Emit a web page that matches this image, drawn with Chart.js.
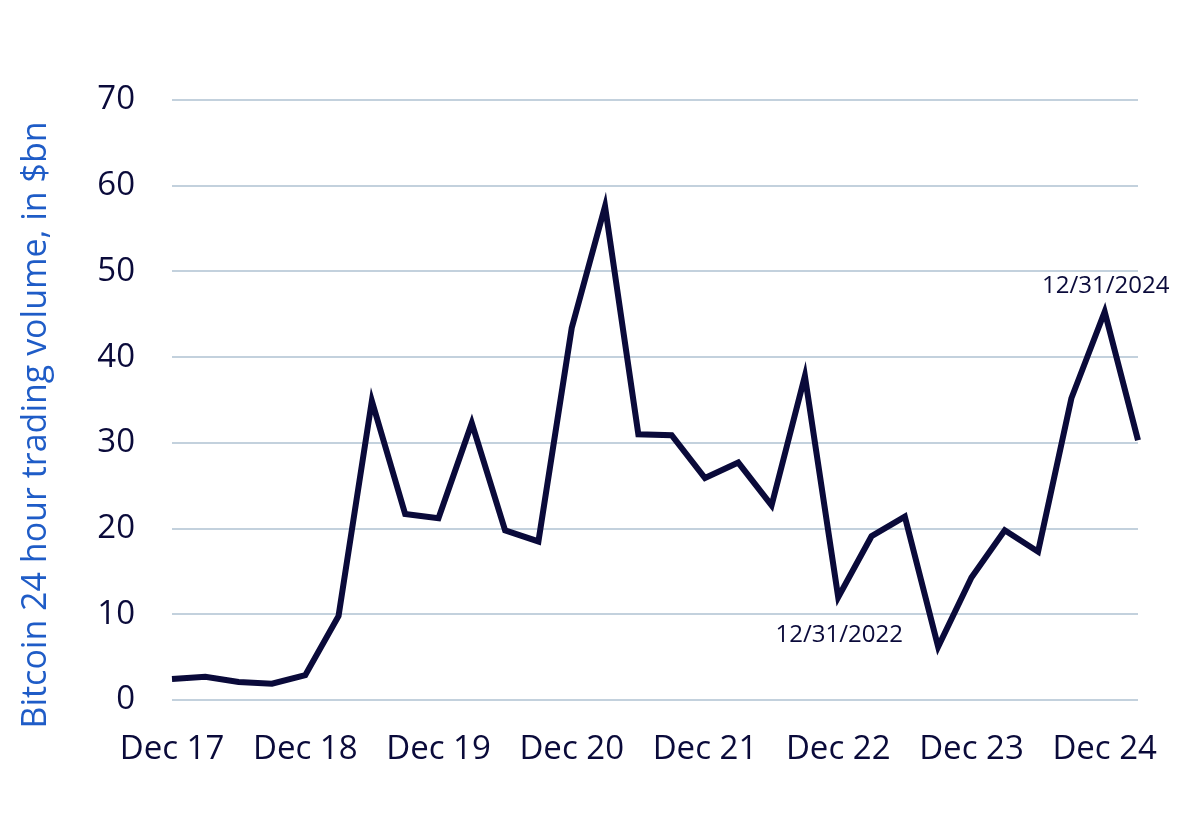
<!DOCTYPE html>
<html>
<head>
<meta charset="utf-8">
<script src="https://cdn.jsdelivr.net/npm/chart.js@4.4.1/dist/chart.umd.min.js"></script>
<style>
  html, body { margin: 0; padding: 0; background: #ffffff; }
  #wrap { width: 1200px; height: 833px; }
</style>
</head>
<body>
<div id="wrap"><canvas id="volume_chart"></canvas></div>
<script>
// quarter ends, Dec 17 .. Mar 25
var quarters = [
    'Dec 17', 'Mar 18', 'Jun 18', 'Sep 18',
    'Dec 18', 'Mar 19', 'Jun 19', 'Sep 19',
    'Dec 19', 'Mar 20', 'Jun 20', 'Sep 20',
    'Dec 20', 'Mar 21', 'Jun 21', 'Sep 21',
    'Dec 21', 'Mar 22', 'Jun 22', 'Sep 22',
    'Dec 22', 'Mar 23', 'Jun 23', 'Sep 23',
    'Dec 23', 'Mar 24', 'Jun 24', 'Sep 24',
    'Dec 24', 'Mar 25'
];
// bitcoin 24h trading volume, $bn
var volume = [
    2.45, 2.7, 2.1, 1.9,
    2.9, 9.8, 34.9, 21.7,
    21.2, 32.3, 19.8, 18.5,
    43.4, 57.6, 31.0, 30.9,
    25.9, 27.7, 22.7, 37.8,
    12.0, 19.1, 21.4, 6.2,
    14.3, 19.8, 17.3, 35.2,
    45.3, 30.3
];
var yTicks = [0, 10, 20, 30, 40, 50, 60, 70];
var yTitle = 'Bitcoin 24 hour trading volume, in $bn';
var noteIndex = [20, 28];
var noteText = ['12/31/2022', '12/31/2024'];

var navy = '#0a0a3a';
var fontFamily = '"Open Sans", "Noto Sans", sans-serif';

// date notes next to their points + rotated y title
var notesPlugin = {
    id: 'notes',
    afterDatasetsDraw: function(chart) {
        var ctx = chart.ctx;
        var meta = chart.getDatasetMeta(0);
        ctx.save();
        ctx.font = '24px ' + fontFamily;
        ctx.fillStyle = navy;
        ctx.textAlign = 'center';
        ctx.textBaseline = 'middle';
        noteIndex.forEach(function(idx, i) {
            var pt = meta.data[idx];
            var below = volume[idx] < volume[idx + 1];
            ctx.fillText(noteText[i], pt.x + 1, below ? pt.y + 38 : pt.y - 26);
        });
        ctx.restore();

        // y title, a bit below the middle of the plot like the source
        var area = chart.chartArea;
        ctx.save();
        ctx.translate(46, (area.top + area.bottom) / 2 + 25);
        ctx.rotate(-Math.PI / 2);
        ctx.font = '34px ' + fontFamily;
        ctx.fillStyle = '#1f5cc7';
        ctx.textAlign = 'center';
        ctx.textBaseline = 'alphabetic';
        ctx.fillText(yTitle, 0, 0);
        ctx.restore();
    }
};

new Chart(document.getElementById('volume_chart').getContext('2d'), {
    type: 'line',
    data: {
        labels: quarters,
        datasets: [{
            data: volume,
            borderColor: navy,
            borderWidth: 6,
            borderJoinStyle: 'miter',
            pointRadius: 0,
            tension: 0,
            fill: false
        }]
    },
    options: {
        responsive: true,
        maintainAspectRatio: false,
        animation: false,
        layout: { padding: { top: 100, right: 62, left: 0, bottom: 0 } },
        plugins: {
            legend: { display: false },
            tooltip: { enabled: false }
        },
        scales: {
            x: {
                type: 'category',
                offset: false,
                grid: { display: false, drawTicks: false },
                border: { display: false },
                ticks: {
                    autoSkip: false,
                    maxRotation: 0,
                    padding: 30,
                    color: navy,
                    font: { family: fontFamily, size: 33 },
                    callback: function(value) {
                        var lab = this.getLabelForValue(value);
                        return lab.indexOf('Dec') === 0 ? lab : '';
                    }
                },
                afterFit: function(scale) { scale.height = 133; }
            },
            y: {
                min: 0,
                max: 70,
                afterBuildTicks: function(scale) {
                    scale.ticks = yTicks.map(function(v) { return { value: v }; });
                },
                grid: { color: '#c3d1dd', lineWidth: 2, drawTicks: false },
                border: { display: false },
                ticks: {
                    padding: 37,
                    color: navy,
                    font: { family: fontFamily, size: 33 }
                },
                afterFit: function(scale) { scale.width = 172; }
            }
        }
    },
    plugins: [notesPlugin]
});
</script>
</body>
</html>
